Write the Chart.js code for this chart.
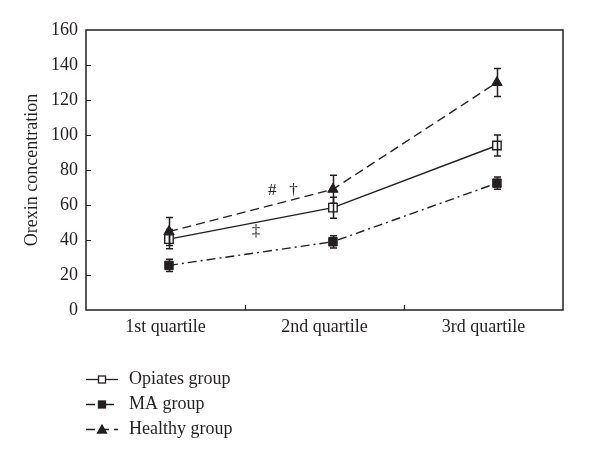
<!DOCTYPE html>
<html>
<head>
<meta charset="utf-8">
<script src="https://cdn.jsdelivr.net/npm/chart.js@4.4.1/dist/chart.umd.min.js"></script>
<style>
html,body{margin:0;padding:0;background:#fff;}
#wrap{width:600px;height:462px;}
</style>
</head>
<body>
<div id="wrap"><canvas id="c" width="600" height="462"></canvas></div>
<script>
const categories = ["1st quartile", "2nd quartile", "3rd quartile"];
const seriesNames = ["Opiates group", "MA group", "Healthy group"];
const opiatesValues = [40.5, 58.5, 94];
const opiatesErrors = [5.5, 6, 6];
const maValues = [25.5, 39, 72.5];
const maErrors = [3.5, 3.5, 3.5];
const healthyValues = [44.8, 69, 130];
const healthyErrors = [8, 8, 8];
const yTicks = [0, 20, 40, 60, 80, 100, 120, 140, 160];
const annotations = [
  {text: "#", x: 0.63, y: 68},
  {text: "\u2020", x: 0.76, y: 68},
  {text: "\u2021", x: 0.53, y: 45}
];

const FONT = "'Liberation Serif', 'DejaVu Serif', serif";
const INK = '#231f20';

const errorsBySeries = [opiatesErrors, maErrors, healthyErrors];
const toPoints = vals => vals.map((v, i) => ({x: i, y: v}));

const boxAndTicks = {
  id: 'boxAndTicks',
  beforeDatasetsDraw(chart) {
    const ctx = chart.ctx, a = chart.chartArea;
    const x = chart.scales.x, y = chart.scales.y;
    ctx.save();
    ctx.strokeStyle = INK;
    ctx.lineWidth = 1.5;
    ctx.strokeRect(a.left, a.top, a.right - a.left, a.bottom - a.top);
    ctx.lineWidth = 1.2;
    ctx.beginPath();
    yTicks.forEach(v => {
      if (v === yTicks[0] || v === yTicks[yTicks.length - 1]) return;
      const py = Math.round(y.getPixelForValue(v)) + 0.5;
      ctx.moveTo(a.left, py); ctx.lineTo(a.left + 5, py);
    });
    for (let i = 1; i < categories.length; i++) {
      const px = Math.round(x.getPixelForValue(i - 0.5)) + 0.5;
      ctx.moveTo(px, a.bottom); ctx.lineTo(px, a.bottom - 5);
    }
    ctx.stroke();
    ctx.restore();
  },
  afterDatasetsDraw(chart) {
    const ctx = chart.ctx;
    const x = chart.scales.xp, y = chart.scales.y;
    ctx.save();
    ctx.strokeStyle = INK;
    ctx.lineWidth = 1.5;
    chart.data.datasets.forEach((ds, di) => {
      const errs = errorsBySeries[di];
      ds.data.forEach((p, i) => {
        const px = Math.round(x.getPixelForValue(p.x)) + 0.5;
        const top = y.getPixelForValue(p.y + errs[i]);
        const bot = y.getPixelForValue(p.y - errs[i]);
        ctx.beginPath();
        ctx.moveTo(px, top); ctx.lineTo(px, bot);
        ctx.moveTo(px - 3.5, top); ctx.lineTo(px + 3.5, top);
        ctx.moveTo(px - 3.5, bot); ctx.lineTo(px + 3.5, bot);
        ctx.stroke();
      });
    });
    ctx.fillStyle = INK;
    ctx.font = "17px " + FONT;
    ctx.textAlign = 'center';
    ctx.textBaseline = 'middle';
    annotations.forEach(an => {
      ctx.fillText(an.text, x.getPixelForValue(an.x), y.getPixelForValue(an.y));
    });
    ctx.restore();
  },
  afterDraw(chart) {
    const ctx = chart.ctx;
    const rowY = [379, 404, 429];
    ctx.save();
    chart.data.datasets.forEach((ds, i) => {
      const yy = rowY[i] + 0.5;
      ctx.strokeStyle = INK;
      ctx.lineWidth = 1.3;
      ctx.setLineDash(ds.borderDash || []);
      ctx.beginPath();
      ctx.moveTo(86, yy); ctx.lineTo(118, yy);
      ctx.stroke();
      ctx.setLineDash([]);
      const cx = 102;
      ctx.fillStyle = ds.pointBackgroundColor;
      ctx.lineWidth = 1.3;
      if (ds.pointStyle === 'triangle') {
        ctx.beginPath();
        ctx.moveTo(cx, yy - 4.5); ctx.lineTo(cx + 4.5, yy + 3.5); ctx.lineTo(cx - 4.5, yy + 3.5);
        ctx.closePath(); ctx.fill(); ctx.stroke();
      } else {
        ctx.fillRect(cx - 3.5, yy - 3.5, 7, 7);
        ctx.strokeRect(cx - 3.5, yy - 3.5, 7, 7);
      }
      ctx.fillStyle = INK;
      ctx.font = "18px " + FONT;
      ctx.textAlign = 'left';
      ctx.textBaseline = 'middle';
      ctx.fillText(ds.label, 129, yy);
    });
    ctx.restore();
  }
};

new Chart(document.getElementById('c'), {
  type: 'line',
  data: {
    labels: categories,
    datasets: [
      {label: seriesNames[0], data: toPoints(opiatesValues), xAxisID: 'xp', borderColor: INK, borderWidth: 1.4,
       pointStyle: 'rect', pointRadius: 6, pointBackgroundColor: '#ffffff', pointBorderColor: INK, pointBorderWidth: 1.4,
       borderDash: [], tension: 0, order: 1},
      {label: seriesNames[1], data: toPoints(maValues), xAxisID: 'xp', borderColor: INK, borderWidth: 1.4,
       pointStyle: 'rect', pointRadius: 6, pointBackgroundColor: INK, pointBorderColor: INK, pointBorderWidth: 1,
       borderDash: [9, 4, 2, 4], tension: 0, order: 2},
      {label: seriesNames[2], data: toPoints(healthyValues), xAxisID: 'xp', borderColor: INK, borderWidth: 1.4,
       pointStyle: 'triangle', pointRadius: 6, pointBackgroundColor: INK, pointBorderColor: INK, pointBorderWidth: 1,
       borderDash: [9, 5], tension: 0, order: 3}
    ]
  },
  options: {
    responsive: false,
    animation: false,
    devicePixelRatio: 1,
    layout: {padding: {left: 21, right: 37, top: 30, bottom: 0}},
    plugins: {legend: {display: false}, tooltip: {enabled: false}},
    scales: {
      x: {
        type: 'category',
        offset: true,
        grid: {display: false, drawTicks: false},
        border: {display: false},
        ticks: {color: INK, font: {family: FONT, size: 18}, padding: 6},
        afterFit(s) { s.height = 152; }
      },
      xp: {
        type: 'linear',
        display: false,
        min: -0.506,
        max: 2.403
      },
      y: {
        min: 0, max: 160,
        afterBuildTicks(s) { s.ticks = yTicks.map(v => ({value: v})); },
        grid: {display: false, drawTicks: false},
        border: {display: false},
        ticks: {color: INK, font: {family: FONT, size: 18}, padding: 8},
        title: {display: true, text: 'Orexin concentration', color: INK, font: {family: FONT, size: 18}, padding: {top: 0, bottom: 0}},
        afterFit(s) { s.width = 65; }
      }
    }
  },
  plugins: [boxAndTicks]
});
</script>
</body>
</html>
